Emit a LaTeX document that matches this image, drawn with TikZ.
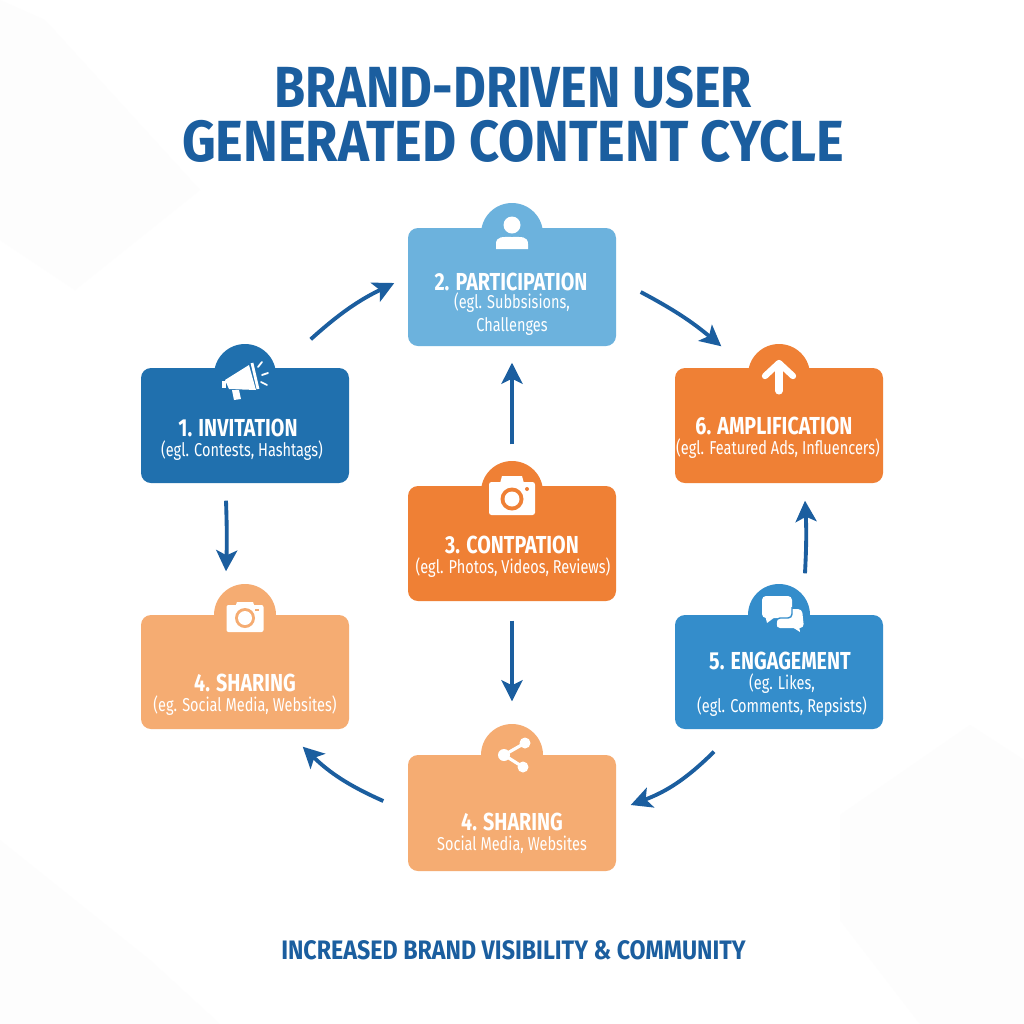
\documentclass[tikz,border=0pt]{standalone}
\usepackage{fontspec}
\setmainfont[FakeStretch=0.8]{Fira Sans}
\newfontfamily\titlewide[FakeStretch=0.905]{Fira Sans}
\newfontfamily\titleslim[FakeStretch=0.87]{Fira Sans}
\newfontfamily\subslim[FakeStretch=0.78]{Fira Sans}
\usetikzlibrary{arrows.meta}
\definecolor{inkblue}{HTML}{1B5E9F}
\definecolor{deepblue}{HTML}{2070AE}
\definecolor{skyblue}{HTML}{6CB2DD}
\definecolor{midblue}{HTML}{348DCB}
\definecolor{deeporange}{HTML}{EF8035}
\definecolor{peach}{HTML}{F5AC72}
\definecolor{facet}{HTML}{FDFDFD}

\begin{document}
\begin{tikzpicture}
		\tikzset{stagebox/.style={shape = rectangle, rounded corners = 0.1cm, minimum width = 2.08cm, inner sep = 0pt}}
		\tikzset{stagetab/.style={shape = circle, minimum size = 0.62cm, inner sep = 0pt}}
		\tikzset{headtext/.style={text = white, font = \fontsize{7}{8}\selectfont\bfseries, inner sep = 0pt}}
		\tikzset{subtext/.style={text = white, font = \subslim\fontsize{5.3}{6}\selectfont, align = center, inner sep = 0pt}}
		\tikzset{edge/.style={-{Stealth[length = 2.1mm, width = 2.1mm, inset = 0.5mm]}, draw = inkblue, line width = 1.1pt}}
		\tikzset{icon/.style={fill = white, draw = none}}
		\useasboundingbox (0, 0) rectangle (10.24, -10.24);
		\fill[white] (0, 0) rectangle (10.24, -10.24);
		%background
		\fill[facet] (0, 0) -- (0.45, -0.2) -- (2, -1.9) -- (0.75, -2.9) -- (0, -2.4) -- cycle;
		\fill[facet] (10.24, -7.6) -- (9.7, -7.25) -- (8.4, -8.15) -- (8.4, -9.2) -- (9.2, -10.24) -- (10.24, -10.24) -- cycle;
		\fill[facet] (0, -8.4) -- (1.5, -9.6) -- (2.2, -10.24) -- (0, -10.24) -- cycle;
		%title
		\node[text = inkblue, font = \titleslim\fontsize{16.5}{18}\selectfont\bfseries, inner sep = 0pt] (title1) at (5.13, -0.87) {BRAND-DRIVEN USER};
		\node[text = inkblue, font = \titlewide\fontsize{16.5}{18}\selectfont\bfseries, inner sep = 0pt] (title2) at (5.13, -1.41) {GENERATED CONTENT CYCLE};
		\node[text = inkblue, font = \titleslim\fontsize{7.6}{9}\selectfont\bfseries, inner sep = 0pt] (footer) at (5.135, -9.5) {INCREASED BRAND VISIBILITY \& COMMUNITY};
		%boxes
		\node[stagetab, fill = deepblue] (tab1) at (2.45, -3.75) {};
		\node[stagetab, fill = skyblue] (tab2) at (5.12, -2.34) {};
		\node[stagetab, fill = deeporange] (tab3) at (5.12, -4.92) {};
		\node[stagetab, fill = peach] (tab4) at (2.45, -6.15) {};
		\node[stagetab, fill = peach] (tab7) at (5.12, -7.55) {};
		\node[stagetab, fill = midblue] (tab5) at (7.79, -6.15) {};
		\node[stagetab, fill = deeporange] (tab6) at (7.79, -3.75) {};
		\node[stagebox, fill = deepblue, minimum height = 1.15cm] (b1) at (2.45, -4.255) {};
		\node[stagebox, fill = skyblue, minimum height = 1.18cm] (b2) at (5.12, -2.87) {};
		\node[stagebox, fill = deeporange, minimum height = 1.15cm] (b3) at (5.12, -5.435) {};
		\node[stagebox, fill = peach, minimum height = 1.14cm] (b4) at (2.45, -6.72) {};
		\node[stagebox, fill = peach, minimum height = 1.16cm] (b7) at (5.12, -8.13) {};
		\node[stagebox, fill = midblue, minimum height = 1.14cm] (b5) at (7.79, -6.72) {};
		\node[stagebox, fill = deeporange, minimum height = 1.15cm] (b6) at (7.79, -4.255) {};
		%labels
		\node[headtext] (h1) at (2.38, -4.28) {1. INVITATION};
		\node[subtext] (s1) at (2.42, -4.51) {(egl. Contests, Hashtags)};
		\node[headtext] (h2) at (5.11, -2.82) {2. PARTICIPATION};
		\node[subtext] (s2) at (5.12, -3.145) {(egl. Subbsisions,\\[0.6pt]Challenges};
		\node[headtext] (h3) at (5.12, -5.45) {3. CONTPATION};
		\node[subtext] (s3) at (5.13, -5.68) {(egl. Photos, Videos, Reviews)};
		\node[headtext] (h4) at (2.45, -6.83) {4. SHARING};
		\node[subtext] (s4) at (2.45, -7.06) {(eg. Social Media, Websites)};
		\node[headtext] (h7) at (5.12, -8.22) {4. SHARING};
		\node[subtext] (s7) at (5.12, -8.45) {Social Media, Websites};
		\node[headtext] (h5) at (7.8, -6.61) {5. ENGAGEMENT};
		\node[subtext] (s5) at (7.82, -6.955) {(eg. Likes,\\[0.6pt](egl. Comments, Repsists)};
		\node[headtext] (h6) at (7.74, -4.26) {6. AMPLIFICATION};
		\node[subtext] (s6) at (7.78, -4.49) {(egl. Featured Ads, Influencers)};
		%edges
		\draw[edge] ([shift = {(-0.39, 0.28)}]b1.north east) to[bend left = 8] ([shift = {(-0.13, 0.04)}]b2.west);
		\draw[edge] ([shift = {(0.24, -0.05)}]b2.east) to[bend left = 6] ([shift = {(0.47, 0.21)}]b6.north west);
		\draw[edge, shorten <= 0.16cm, shorten >= 0.16cm] (tab3.north) -- (b2.south);
		\draw[edge] ([yshift = -0.19cm]b3.south) -- ([yshift = 0.22cm]tab7.north);
		\draw[edge] ([xshift = -0.19cm, yshift = -0.17cm]b1.south) to[bend left = 2] ([xshift = -0.19cm, yshift = 0.12cm]tab4.north);
		\draw[edge] ([shift = {(-0.65, -0.22)}]b5.south) to[bend left = 12] ([shift = {(0.14, 0.08)}]b7.east);
		\draw[edge] ([shift = {(-0.24, 0.12)}]b7.west) to[bend left = 10] ([shift = {(-0.47, -0.17)}]b4.south east);
		\draw[edge] ([xshift = 0.26cm, yshift = 0.1cm]tab5.north) to[bend right = 3] ([xshift = 0.26cm, yshift = -0.17cm]b6.south);
		%icons
		\begin{scope}[shift = {(tab1.center)}]
			\fill[icon] (-0.2, -0.05) -- (0.04, 0.1) -- (0.11, -0.15) -- (-0.16, -0.14) -- cycle;
			\fill[icon] (-0.23, -0.06) rectangle (-0.19, -0.13);
			\fill[icon] (-0.13, -0.15) -- (-0.06, -0.15) -- (-0.04, -0.24) -- (-0.11, -0.25) -- cycle;
			\draw[white, line width = 0.8pt] (0.07, 0.12) -- (0.13, -0.14);
			\draw[white, line width = 0.5pt, line cap = round] (0.13, 0.08) -- (0.17, 0.13) (0.17, 0) -- (0.23, 0.02) (0.16, -0.07) -- (0.22, -0.1);
		\end{scope}
		\begin{scope}[shift = {(tab2.center)}]
			\fill[icon] (0, 0.09) circle (0.085);
			\fill[icon] (-0.16, -0.15) -- (-0.16, -0.1) .. controls (-0.16, -0.02) and (-0.09, -0.03) .. (0, -0.03) .. controls (0.09, -0.03) and (0.16, -0.02) .. (0.16, -0.1) -- (0.16, -0.15) -- cycle;
		\end{scope}
		\begin{scope}[shift = {(tab3.center)}]
			\fill[icon, rounded corners = 0.025cm] (-0.23, -0.23) rectangle (0.23, 0.1);
			\fill[icon] (-0.13, 0.05) -- (-0.1, 0.16) -- (0.1, 0.16) -- (0.13, 0.05) -- cycle;
			\fill[deeporange] (0, -0.07) circle (0.115);
			\fill[white] (0, -0.07) circle (0.075);
			\fill[deeporange] (0.15, 0.03) circle (0.02);
		\end{scope}
		\begin{scope}[shift = {(tab4.center)}]
			\fill[icon, rounded corners = 0.02cm] (-0.185, -0.17) rectangle (0.185, 0.1);
			\fill[icon] (-0.11, 0.05) -- (-0.08, 0.13) -- (0.08, 0.13) -- (0.11, 0.05) -- cycle;
			\fill[peach] (0, -0.03) circle (0.1);
			\fill[white] (0, -0.03) circle (0.07);
			\fill[peach] (0.12, 0.05) +(-0.02, -0.01) rectangle +(0.02, 0.01);
		\end{scope}
		\begin{scope}[shift = {(tab7.center)}]
			\draw[white, line width = 0.9pt] (0.13, 0.12) -- (-0.08, 0) -- (0.11, -0.12);
			\fill[icon] (0.13, 0.12) circle (0.055) (-0.08, 0) circle (0.06) (0.11, -0.12) circle (0.055);
		\end{scope}
		\begin{scope}[shift = {(tab5.center)}]
			\fill[icon, rounded corners = 0.04cm] (-0.17, 0.19) rectangle (0.13, -0.03);
			\fill[icon] (-0.14, 0) -- (-0.12, -0.08) -- (-0.04, -0.02) -- cycle;
			\fill[icon, rounded corners = 0.04cm] (0, 0.06) -- (0.23, 0.06) -- (0.25, -0.13) -- (-0.03, -0.13) -- cycle;
			\draw[midblue, line width = 0.4pt, rounded corners = 0.04cm] (0.13, 0.08) -- (0.13, -0.03) -- (-0.03, -0.03) -- (-0.03, -0.14);
			\fill[icon] (0.1, -0.1) -- (0.21, -0.17) -- (0.2, -0.1) -- cycle;
		\end{scope}
		\begin{scope}[shift = {(tab6.center)}]
			\draw[white, line width = 2pt, line cap = round] (0, -0.16) -- (0, 0.1);
			\draw[white, line width = 1.8pt, line cap = round, line join = round] (-0.14, -0.01) -- (0, 0.12) -- (0.14, -0.01);
		\end{scope}
\end{tikzpicture}
\end{document}
